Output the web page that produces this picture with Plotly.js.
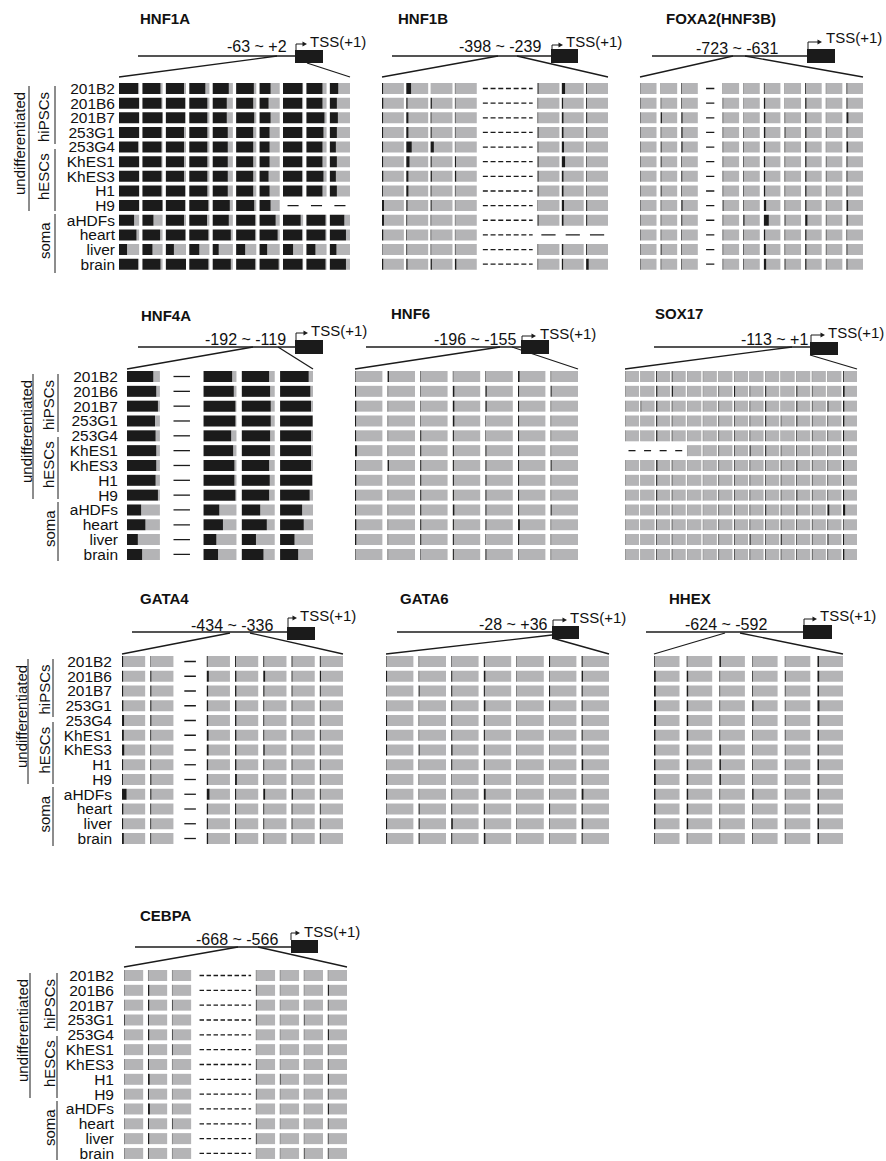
<!DOCTYPE html>
<html><head><meta charset="utf-8">
<script src="https://cdn.plot.ly/plotly-3.0.1.min.js"></script>
<style>html,body{margin:0;padding:0;background:#fff;}</style>
</head><body><div id="chart" style="width:886px;height:1161px;"></div>
<script>
// ---------------- DATA (methylation %, null = not determined) ----------------
const ROWS = ['201B2','201B6','201B7','253G1','253G4','KhES1','KhES3','H1','H9','aHDFs','heart','liver','brain'];
const GENES = ['HNF1A','HNF1B','FOXA2(HNF3B)','HNF4A','HNF6','SOX17','GATA4','GATA6','HHEX','CEBPA'];
const REGIONS = ['-63 ~ +2','-398 ~ -239','-723 ~ -631','-192 ~ -119','-196 ~ -155','-113 ~ +1','-434 ~ -336','-28 ~ +36','-624 ~ -592','-668 ~ -566'];
const n = null;
const HNF1A = [
 [95,90,90,80,80,88,55,97,80,42],
 [100,95,95,90,70,85,45,95,80,35],
 [100,100,95,90,70,90,55,95,90,40],
 [100,95,90,90,75,85,50,95,85,35],
 [95,95,90,90,75,85,50,95,80,30],
 [100,95,90,90,75,85,50,95,80,35],
 [100,95,90,90,75,85,45,95,85,30],
 [100,95,95,90,75,85,50,95,80,35],
 [100,100,95,95,85,90,55,n,n,n],
 [75,55,90,88,80,95,80,88,95,72],
 [87,88,97,95,90,95,90,95,95,80],
 [40,50,40,50,30,45,38,50,45,33],
 [95,90,100,95,90,95,95,97,95,80]];
const HNF1B = [
 [5,22,0,2,n,5,15,4],
 [6,6,6,3,n,3,6,4],
 [5,10,4,3,n,3,8,5],
 [5,10,5,3,n,5,8,5],
 [5,25,15,2,n,4,10,3],
 [5,15,5,5,n,5,15,3],
 [6,10,6,6,n,5,8,3],
 [4,10,4,3,n,5,8,3],
 [9,6,5,2,n,2,10,5],
 [9,4,3,2,n,5,8,5],
 [6,3,3,2,n,n,n,n],
 [2,4,3,3,n,3,7,4],
 [6,6,6,7,n,3,6,12]];
const FOXA2 = [
 [2,2,4,n,2,2,5,2,5,2,5],
 [3,4,4,n,4,2,8,2,8,2,6],
 [3,8,8,n,4,2,9,4,8,2,12],
 [3,4,8,n,4,4,9,6,8,4,6],
 [3,6,8,n,4,4,8,4,8,2,10],
 [3,6,4,n,4,4,8,4,8,4,6],
 [3,4,6,n,4,4,8,4,8,4,6],
 [3,6,4,n,4,4,8,4,8,4,6],
 [3,4,8,n,6,4,14,4,8,4,10],
 [3,4,6,n,4,8,30,6,14,4,8],
 [3,4,4,n,4,4,8,4,8,4,4],
 [3,6,4,n,4,4,12,4,8,4,6],
 [3,4,4,n,4,4,14,6,8,4,6]];
const HNF4A = [
 [80,n,87,83,87],
 [89,n,92,86,92],
 [94,n,97,88,94],
 [85,n,97,88,99],
 [87,n,84,86,94],
 [89,n,90,86,94],
 [89,n,94,83,94],
 [87,n,94,85,97],
 [94,n,97,83,90],
 [43,n,48,56,67],
 [56,n,59,76,72],
 [33,n,39,43,44],
 [46,n,44,66,55]];
const HNF6 = [
 [2,5,2,2,2,6,2],
 [4,2,2,6,5,4,4],
 [5,2,2,6,5,4,2],
 [4,2,2,6,2,4,2],
 [4,2,4,4,2,4,2],
 [7,2,4,4,4,4,2],
 [4,5,4,4,4,4,4],
 [5,2,4,4,4,4,2],
 [4,2,4,4,4,4,2],
 [4,2,4,6,4,4,4],
 [5,2,4,4,4,7,2],
 [5,2,4,4,2,4,2],
 [2,2,2,4,4,2,2]];
const SOX17 = [
 [2,2,6,6,2,2,2,2,2,2,2,2,2,2,6],
 [2,2,9,9,2,2,5,8,5,8,2,8,5,2,12],
 [2,5,9,5,2,2,5,5,5,8,2,8,5,8,10],
 [2,2,8,5,2,2,5,5,5,8,5,8,5,5,10],
 [2,2,9,5,2,2,5,5,5,5,2,5,5,5,8],
 [n,n,n,n,2,2,5,5,8,8,5,5,5,5,8],
 [2,2,10,5,2,2,5,5,5,5,5,8,5,5,8],
 [2,2,8,5,2,2,5,5,5,5,5,5,5,5,8],
 [2,2,8,5,2,2,5,5,5,5,5,8,5,5,8],
 [2,2,5,5,2,2,5,5,5,8,5,8,5,14,16],
 [2,2,5,5,2,2,5,5,5,5,5,5,5,5,5],
 [2,2,5,5,2,2,5,5,8,5,8,5,5,8,8],
 [2,2,5,5,2,2,5,5,5,5,5,5,5,5,10]];
const GATA4 = [
 [5,2,n,4,4,4,4,4],
 [5,5,n,9,6,8,4,5],
 [5,5,n,6,6,5,4,4],
 [6,5,n,6,6,4,4,4],
 [9,5,n,6,6,4,4,4],
 [8,4,n,8,6,4,4,4],
 [10,4,n,8,6,6,4,4],
 [5,4,n,6,6,4,4,4],
 [4,5,n,6,8,4,4,4],
 [20,5,n,12,5,8,6,4],
 [6,4,n,6,5,4,4,4],
 [5,4,n,5,5,4,4,4],
 [8,4,n,6,6,4,4,4]];
const GATA6 = [
 [2,2,2,4,2,4,4],
 [4,2,4,6,2,2,5],
 [2,4,4,4,2,4,4],
 [2,2,4,6,2,4,4],
 [4,2,4,4,2,2,4],
 [4,2,4,4,2,2,4],
 [4,4,5,4,2,2,4],
 [2,2,4,4,2,2,6],
 [4,2,2,4,2,2,4],
 [4,2,4,7,2,2,7],
 [2,4,4,4,2,4,4],
 [4,4,6,4,2,2,6],
 [4,4,4,6,2,2,4]];
const HHEX = [
 [3,3,6,2,2,6],
 [7,6,3,3,4,7],
 [7,6,3,3,3,6],
 [8,6,3,6,3,8],
 [8,6,3,3,3,7],
 [6,6,3,3,3,6],
 [6,6,6,3,3,6],
 [6,6,6,3,3,6],
 [7,6,6,3,3,7],
 [6,6,3,6,3,6],
 [6,6,3,3,3,6],
 [6,6,3,3,3,6],
 [3,3,3,3,3,6]];
const CEBPA = [
 [2,2,2,n,2,2,2,2],
 [2,7,2,n,4,2,2,6],
 [2,7,4,n,4,2,2,4],
 [4,5,2,n,4,2,4,4],
 [2,7,4,n,2,2,2,6],
 [2,5,4,n,2,2,2,4],
 [2,5,2,n,4,2,2,4],
 [2,9,2,n,4,4,2,6],
 [2,5,2,n,4,2,2,4],
 [2,10,2,n,2,2,2,6],
 [2,5,4,n,4,2,2,4],
 [2,7,2,n,4,2,2,4],
 [2,4,2,n,2,2,4,4]];
const SERIES = [HNF1A,HNF1B,FOXA2,HNF4A,HNF6,SOX17,GATA4,GATA6,HHEX,CEBPA];
const GROUP_TOP = 'undifferentiated';
const GROUP_SUB = ['hiPSCs','hESCs','soma'];

// ---------------- LAYOUT / STYLE ----------------
const W = 886, H = 1161, CELLH = 11;
const BLACK = '#1b1b1b', GRAY = '#b4b4b6';
const FONT = 'Liberation Sans, Arial, Helvetica, sans-serif';
// per-row geometry of the left label block
const LEFT = [
  {top:83,  pitch:14.64, fanY:77,  lineY:56,  ux:19, ulx:29, sx:44, slx:55, standoff:3},
  {top:371, pitch:14.83, fanY:369, lineY:347, ux:26, ulx:33, sx:49, slx:58, standoff:8},
  {top:656, pitch:14.75, fanY:654, lineY:632, ux:21, ulx:28, sx:43.5, slx:53, standoff:9},
  {top:970, pitch:14.83, fanY:967, lineY:947, ux:22, ulx:30, sx:49, slx:57, standoff:9}];
const PANELS = [
 {row:0, left:true, gl:119, gr:350, cf:0.86, dashLen:0.55, tx:138, ty:18, lx0:138, box:[295,323,50,63], fanL:[277,56], fanR:[307,63], lab:[257,46], tss:[296,44,307,308,42]},
 {row:0, gl:382, gr:608, cf:0.9, dashLen:0.65, slots:[1,1,1,1,2.4,1,1,1], dash:'5px,2.7px', tx:396, ty:18, lx0:392, box:[551,578,49,63], fanL:[498,56], fanR:[517,56], lab:[500,47], tss:[552,45,563,564,42]},
 {row:0, gl:640, gr:863, cf:0.8, dashLen:0.5, tx:664, ty:18, lx0:652, box:[807,835,49,63], fanL:[733,56], fanR:[745,56], lab:[737,48], tss:[808,42,822,824,38]},
 {row:1, left:true, gl:127, gr:313, cf:0.86, dashLen:0.5, tx:139, ty:315, lx0:138, box:[295,323,340,354], fanL:[253,347], fanR:[278,347], lab:[246,339], tss:[296,333,308,309,331]},
 {row:1, gl:355, gr:578, cf:0.84, dashLen:0.5, tx:389, ty:313, lx0:366, box:[521,549,340,354], fanL:[500,347], fanR:[512,347], lab:[475,340], tss:[522,336,536,538,333]},
 {row:1, gl:625, gr:857, cf:0.9, dashLen:0.5, tx:653, ty:313, lx0:654, box:[810,838,342,355], fanL:[792,347], fanR:[810,355], lab:[774,340], tss:[811,335,825,826,332]},
 {row:2, left:true, gl:122, gr:343, cf:0.82, dashLen:0.5, tx:138, ty:598, lx0:132, box:[287,315,627,640], fanL:[230,633], fanR:[250,633], lab:[232,625], tss:[288,618,297,298,615]},
 {row:2, gl:386, gr:609, cf:0.84, dashLen:0.5, tx:398, ty:598, lx0:397, box:[552,579,626,639], fanL:[552,635], fanR:[552,638], lab:[513,624], tss:[553,620,567,568,617]},
 {row:2, gl:654, gr:843, cf:0.78, dashLen:0.5, tx:667, ty:598, lx0:646, box:[803,832,625,639], fanL:[725,633], fanR:[740,633], lab:[726,624], tss:[804,619,817,818,615]},
 {row:3, left:true, gl:124, gr:347, cf:0.8, dashLen:0.5, slots:[1,1,1,2.5,1,1,1,1], dash:'4.5px,2.5px', tx:138, ty:915, lx0:135, box:[291,318,940,953], fanL:[238,947], fanR:[258,947], lab:[237,939], tss:[291,933,300,302,931]}];

const px = x => x / W, py = y => 1 - y / H;
const traces = [], shapes = [], annotations = [];
const layout = {width:W, height:H, margin:{l:0,r:0,t:0,b:0}, paper_bgcolor:'#fff', plot_bgcolor:'rgba(0,0,0,0)',
  showlegend:false, barmode:'overlay', font:{family:FONT, color:'#111'}};
const line = (x0,y0,x1,y1,w) => shapes.push({type:'line', xref:'paper', yref:'paper', x0:px(x0), y0:py(y0), x1:px(x1), y1:py(y1), line:{color:BLACK, width:w||1.3}});
const text = (x,y,t,o) => annotations.push(Object.assign({xref:'paper', yref:'paper', x:px(x), y:py(y), text:t, showarrow:false, xanchor:'left', yanchor:'middle', font:{family:FONT, size:16, color:'#111'}}, o||{}));

PANELS.forEach((p, i) => {
  const k = i + 1, sfx = k === 1 ? '' : String(k);
  const xa = 'x' + sfx, ya = 'y' + sfx;
  const data = SERIES[i];
  const L = LEFT[p.row], P = L.pitch;
  const nC = data[0].length;
  const sw = p.slots || Array(nC).fill(1);
  const starts = []; let acc = 0; sw.forEach(w => { starts.push(acc); acc += w; });
  const extent = acc - 1 + p.cf;
  const bY=[],bX=[],bB=[],gY=[],gX=[],gB=[],dX=[],dY=[],wX=[],wY=[];
  data.forEach((row, r) => row.forEach((v, c) => {
    const s = starts[c];
    if (v === null) {
      if (sw[c] > 1) { wX.push(s + 0.15, s + sw[c] - 0.2, null); wY.push(r, r, null); }
      else { const mid = s + p.cf / 2, h = p.dashLen * p.cf / 2; dX.push(mid - h, mid + h, null); dY.push(r, r, null); }
      return;
    }
    const m = v / 100 * p.cf;
    bY.push(r); bX.push(m); bB.push(s);
    gY.push(r); gX.push(p.cf - m); gB.push(s + m);
  }));
  const bw = CELLH / P;
  traces.push({type:'bar', orientation:'h', xaxis:xa, yaxis:ya, y:gY, x:gX, base:gB, width:bw, marker:{color:GRAY, line:{width:0}}, hoverinfo:'skip'});
  traces.push({type:'bar', orientation:'h', xaxis:xa, yaxis:ya, y:bY, x:bX, base:bB, width:bw, marker:{color:BLACK, line:{width:0}}, hoverinfo:'skip'});
  if (dX.length) traces.push({type:'scatter', mode:'lines', xaxis:xa, yaxis:ya, x:dX, y:dY, line:{color:BLACK, width:1.3}, hoverinfo:'skip'});
  if (wX.length) traces.push({type:'scatter', mode:'lines', xaxis:xa, yaxis:ya, x:wX, y:wY, line:{color:BLACK, width:1.3, dash:p.dash}, hoverinfo:'skip'});

  const domTop = L.top - (P - CELLH) / 2;
  const domBot = Math.min(H, domTop + 13 * P);
  const c0 = L.top + CELLH / 2;
  layout['xaxis' + sfx] = {domain:[px(p.gl), px(p.gr)], range:[0, extent], anchor:ya, visible:false, fixedrange:true};
  layout['yaxis' + sfx] = {domain:[py(domBot), py(domTop)], range:[(domBot - c0) / P, (domTop - c0) / P], anchor:xa, fixedrange:true,
    showgrid:false, zeroline:false, showline:false, ticks:'', ticklabeloverflow:'allow',
    showticklabels:!!p.left, tickmode:'array', tickvals:ROWS.map((_, j) => j), ticktext:ROWS,
    ticklabelstandoff:L.standoff, tickfont:{family:FONT, size:15.5, color:'#111'}};

  // header: gene title, promoter line, TSS box and arrow, zoom fan
  text(p.tx, p.ty, '<b>' + GENES[i] + '</b>', {font:{family:FONT, size:15, color:'#111'}});
  line(p.lx0, L.lineY, p.box[0], L.lineY, 1.3);
  shapes.push({type:'rect', xref:'paper', yref:'paper', x0:px(p.box[0]), x1:px(p.box[1]), y0:py(p.box[3]), y1:py(p.box[2]), fillcolor:BLACK, line:{width:0}});
  line(p.gl, L.fanY, p.fanL[0], p.fanL[1], 1.3);
  line(p.fanR[0], p.fanR[1], p.gr, L.fanY, 1.3);
  text(p.lab[0], p.lab[1], REGIONS[i], {xanchor:'center'});
  const t = p.tss; // [xv, ytop, xend, textx, texty]
  line(t[0], p.box[2], t[0], t[1], 1);
  line(t[0], t[1], t[2] - 3, t[1], 1);
  shapes.push({type:'path', xref:'paper', yref:'paper', fillcolor:BLACK, line:{width:0},
    path:`M ${px(t[2])},${py(t[1])} L ${px(t[2]-4.5)},${py(t[1]-2.6)} L ${px(t[2]-4.5)},${py(t[1]+2.6)} Z`});
  text(t[3], t[4], 'TSS(+1)', {font:{family:FONT, size:15, color:'#111'}});

  if (p.left) {
    const T = L.top;
    line(L.ulx, T + 3, L.ulx, T + 128, 1);
    text(L.ux, T + 61, GROUP_TOP, {xanchor:'center', textangle:-90, font:{family:FONT, size:15, color:'#111'}});
    const spans = [[3, 61, 34], [66, 128, 94], [131, 190, 158]];
    spans.forEach((s, j) => {
      line(L.slx, T + s[0], L.slx, T + s[1], 1);
      text(L.sx, T + s[2], GROUP_SUB[j], {xanchor:'center', textangle:-90, font:{family:FONT, size:15, color:'#111'}});
    });
  }
});
layout.shapes = shapes;
layout.annotations = annotations;
Plotly.newPlot('chart', traces, layout, {staticPlot:true, displayModeBar:false});
</script></body></html>
